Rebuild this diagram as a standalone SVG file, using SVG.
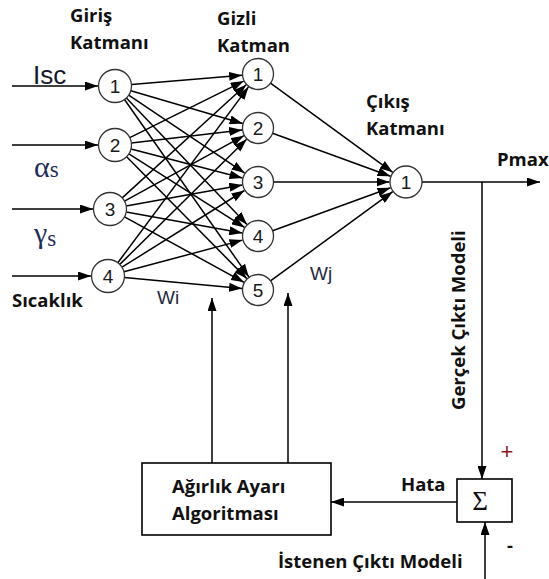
<svg xmlns="http://www.w3.org/2000/svg" width="549" height="579" viewBox="0 0 549 579">
  <style>
    .node circle { fill: #ffffff; stroke: #333333; stroke-width: 1.3; }
    .node text { font-family: "Liberation Sans", Arial, sans-serif; font-size: 19px; fill: #1a1a1a; text-anchor: middle; }
    .edge { stroke: #000000; stroke-width: 1.5; fill: none; marker-end: url(#arrow); }
    .lbl { font-family: "Open Sans", "DejaVu Sans", sans-serif; font-weight: bold; font-size: 18.5px; fill: #111111; }
    .greek { font-family: "Liberation Serif", "Times New Roman", serif; fill: #1f2d5a; }
    .w { font-family: "Liberation Sans", Arial, sans-serif; font-size: 19px; fill: #262a40; }
    .box { fill: #ffffff; stroke: #000000; stroke-width: 1.6; }
  </style>
  <defs>
    <marker id="arrow" markerUnits="userSpaceOnUse" markerWidth="13" markerHeight="9" refX="13" refY="4.5" orient="auto">
      <path d="M0,0 L13,4.5 L0,9 Z" fill="#000000"/>
    </marker>
  </defs>

  <rect width="549" height="579" fill="#ffffff"/>

  <!-- layer titles -->
  <text class="lbl" x="70" y="22">Giriş</text>
  <text class="lbl" x="70" y="49">Katmanı</text>
  <text class="lbl" x="217" y="25">Gizli</text>
  <text class="lbl" x="217" y="52">Katman</text>
  <text class="lbl" x="366" y="108">Çıkış</text>
  <text class="lbl" x="366" y="135">Katmanı</text>

  <!-- input labels -->
  <text x="33" y="84" font-family="Liberation Sans, Arial, sans-serif" font-size="26" fill="#15172a">Isc</text>
  <text class="greek" x="34" y="177"><tspan font-size="30">α</tspan><tspan font-size="23">s</tspan></text>
  <text class="greek" x="34" y="243"><tspan font-size="30">γ</tspan><tspan font-size="23" dy="3">s</tspan></text>
  <text class="lbl" x="12" y="307">Sıcaklık</text>
  <text class="w" x="157" y="304">Wi</text>
  <text class="w" x="310" y="280">Wj</text>
  <text class="lbl" x="497" y="166">Pmax</text>
  <text class="lbl" transform="translate(465,410) rotate(-90)">Gerçek Çıktı Modeli</text>
  <text class="lbl" x="401" y="491">Hata</text>
  <text class="lbl" x="278" y="568">İstenen Çıktı Modeli</text>
  <text x="507" y="459" font-family="Liberation Sans, Arial, sans-serif" font-size="22" fill="#8b1a1a" text-anchor="middle">+</text>
  <text class="lbl" x="507" y="552">-</text>

  <!-- connectors -->
  <g id="connectors">
    <!-- inputs -->
    <line class="edge" x1="12" y1="86" x2="98" y2="86"/>
    <line class="edge" x1="12" y1="145" x2="98" y2="145"/>
    <line class="edge" x1="12" y1="209" x2="93" y2="209"/>
    <line class="edge" x1="12" y1="276" x2="91" y2="276"/>

    <!-- input 1 to hidden -->
    <line class="edge" x1="131.4" y1="84.6" x2="242.1" y2="75.3"/>
    <line class="edge" x1="130.8" y1="90.7" x2="242.7" y2="123.5"/>
    <line class="edge" x1="128.7" y1="95.2" x2="244.7" y2="173.1"/>
    <line class="edge" x1="126.4" y1="97.9" x2="247.0" y2="224.4"/>
    <line class="edge" x1="124.5" y1="99.5" x2="248.8" y2="276.9"/>
    <!-- input 2 to hidden -->
    <line class="edge" x1="129.8" y1="137.7" x2="243.7" y2="81.1"/>
    <line class="edge" x1="131.4" y1="143.1" x2="242.1" y2="129.9"/>
    <line class="edge" x1="131.0" y1="149.1" x2="242.5" y2="178.0"/>
    <line class="edge" x1="128.9" y1="153.9" x2="244.5" y2="227.4"/>
    <line class="edge" x1="126.6" y1="156.8" x2="246.8" y2="278.6"/>
    <!-- input 3 to hidden -->
    <line class="edge" x1="122.2" y1="197.9" x2="246.2" y2="84.8"/>
    <line class="edge" x1="124.5" y1="201.1" x2="244.0" y2="135.7"/>
    <line class="edge" x1="126.2" y1="206.0" x2="242.3" y2="184.9"/>
    <line class="edge" x1="126.2" y1="212.0" x2="242.3" y2="233.1"/>
    <line class="edge" x1="124.5" y1="216.9" x2="244.0" y2="282.3"/>
    <!-- input 4 to hidden -->
    <line class="edge" x1="117.8" y1="262.8" x2="248.5" y2="86.9"/>
    <line class="edge" x1="119.8" y1="264.4" x2="246.6" y2="139.2"/>
    <line class="edge" x1="122.0" y1="267.2" x2="244.4" y2="190.5"/>
    <line class="edge" x1="123.9" y1="271.8" x2="242.5" y2="240.1"/>
    <line class="edge" x1="124.4" y1="277.5" x2="242.1" y2="288.5"/>

    <!-- hidden to output -->
    <line class="edge" x1="270.5" y1="83.1" x2="392.7" y2="172.3"/>
    <line class="edge" x1="272.6" y1="133.3" x2="390.5" y2="176.3"/>
    <line class="edge" x1="273.5" y1="182" x2="389.5" y2="182"/>
    <line class="edge" x1="272.6" y1="230.7" x2="390.5" y2="187.7"/>
    <line class="edge" x1="270.5" y1="280.9" x2="392.7" y2="191.7"/>

    <!-- output and feedback loop -->
    <line class="edge" x1="422" y1="182" x2="540" y2="182"/>
    <line class="edge" x1="482" y1="182" x2="482" y2="479"/>
    <line class="edge" x1="485" y1="579" x2="485" y2="522"/>
    <line class="edge" x1="457" y1="502" x2="331" y2="502"/>
    <line class="edge" x1="212" y1="463" x2="212" y2="298"/>
    <line class="edge" x1="288" y1="463" x2="288" y2="293"/>
  </g>

  <!-- input layer -->
  <g id="in1" class="node"><circle cx="115" cy="86" r="16.5"/><text x="115" y="93">1</text></g>
  <g id="in2" class="node"><circle cx="115" cy="145" r="16.5"/><text x="115" y="152">2</text></g>
  <g id="in3" class="node"><circle cx="110" cy="209" r="16.5"/><text x="110" y="216">3</text></g>
  <g id="in4" class="node"><circle cx="108" cy="276" r="16.5"/><text x="108" y="283">4</text></g>

  <!-- hidden layer -->
  <g id="hid1" class="node"><circle cx="258" cy="74" r="15.5"/><text x="258" y="81">1</text></g>
  <g id="hid2" class="node"><circle cx="258" cy="128" r="15.5"/><text x="258" y="135">2</text></g>
  <g id="hid3" class="node"><circle cx="258" cy="182" r="15.5"/><text x="258" y="189">3</text></g>
  <g id="hid4" class="node"><circle cx="258" cy="236" r="15.5"/><text x="258" y="243">4</text></g>
  <g id="hid5" class="node"><circle cx="258" cy="290" r="15.5"/><text x="258" y="297">5</text></g>

  <!-- output layer -->
  <g id="out1" class="node"><circle cx="406" cy="182" r="16"/><text x="406" y="189">1</text></g>

  <!-- summing junction -->
  <g id="sum">
    <rect class="box" x="457" y="479" width="55" height="43"/>
    <text x="480" y="510" font-family="Liberation Serif, Times New Roman, serif" font-size="27" fill="#111111" text-anchor="middle">Σ</text>
  </g>

  <!-- weight update block -->
  <g id="algorithm">
    <rect class="box" x="142" y="463" width="189" height="72"/>
    <text class="lbl" x="172" y="493">Ağırlık Ayarı</text>
    <text class="lbl" x="172" y="520">Algoritması</text>
  </g>
</svg>
